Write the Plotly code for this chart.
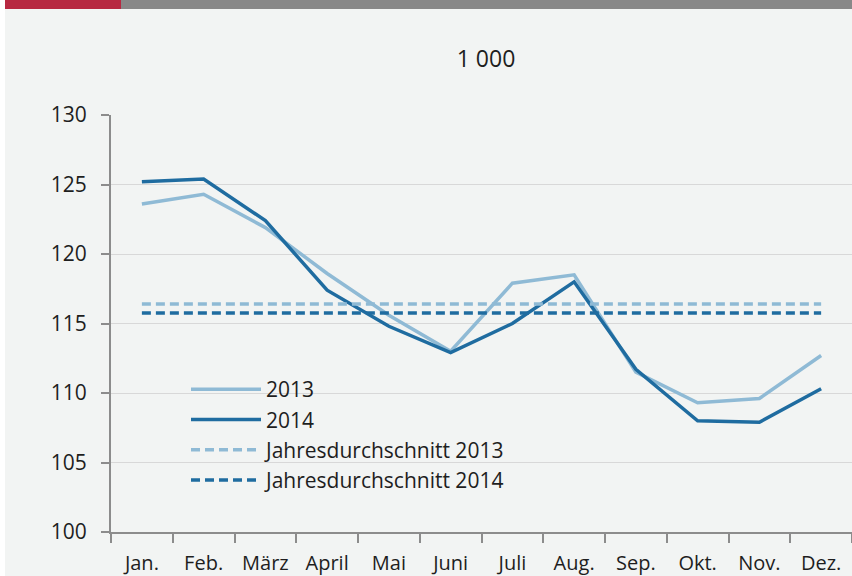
import plotly.graph_objects as go

months = ["Jan.", "Feb.", "März", "April", "Mai", "Juni", "Juli", "Aug.", "Sep.", "Okt.", "Nov.", "Dez."]
values_2013 = [123.6, 124.3, 121.9, 118.6, 115.6, 113.0, 117.9, 118.5, 111.5, 109.3, 109.6, 112.7]
values_2014 = [125.2, 125.4, 122.4, 117.4, 114.8, 112.9, 115.0, 118.0, 111.7, 108.0, 107.9, 110.3]
avg_2013 = 116.4
avg_2014 = 115.75
y_ticks = [100, 105, 110, 115, 120, 125, 130]

LIGHT = "#8fbad5"
DARK = "#1f6ca0"
BG = "#f2f4f3"
AXIS = "#8c8c8c"
GRID = "#d8d8d8"
TXT = "#1e1e1e"
FONT = "Open Sans, Noto Sans, DejaVu Sans, sans-serif"
DASH = "9px,5px"

fig = go.Figure()
fig.add_trace(go.Scatter(x=months, y=values_2013, mode="lines", name="2013",
                         line=dict(color=LIGHT, width=3.5)))
fig.add_trace(go.Scatter(x=months, y=values_2014, mode="lines", name="2014",
                         line=dict(color=DARK, width=3.5)))
fig.add_trace(go.Scatter(x=months, y=[avg_2013] * len(months), mode="lines",
                         name="Jahresdurchschnitt 2013",
                         line=dict(color=LIGHT, width=3.5, dash=DASH)))
fig.add_trace(go.Scatter(x=months, y=[avg_2014] * len(months), mode="lines",
                         name="Jahresdurchschnitt 2014",
                         line=dict(color=DARK, width=3.5, dash=DASH)))

W, H = 852, 576
L, R, T, B = 111, 0, 115, 44
pw = W - L - R
ph = H - T - B

def px_x(p):
    return (p - L) / pw

def px_y(p):
    return (H - B - p) / ph

shapes = [
    # background panel (white strip at left edge)
    dict(type="rect", xref="paper", yref="paper", x0=px_x(5), x1=px_x(W + 5),
         y0=px_y(H + 5), y1=px_y(9), fillcolor=BG, line_width=0, layer="below"),
    # top bars
    dict(type="rect", xref="paper", yref="paper", x0=px_x(5), x1=px_x(121),
         y0=px_y(9), y1=px_y(0), fillcolor="#b72841", line_width=0, layer="above"),
    dict(type="rect", xref="paper", yref="paper", x0=px_x(121), x1=px_x(W + 5),
         y0=px_y(9), y1=px_y(0), fillcolor="#888888", line_width=0, layer="above"),
    # legend backdrop covering gridlines
    dict(type="rect", xref="paper", yref="y", x0=px_x(146), x1=px_x(549),
         y0=102, y1=113, fillcolor=BG, line_width=0, layer="between"),
]

fig.update_layout(
    width=W, height=H,
    margin=dict(l=L, r=R, t=T, b=B, pad=0),
    paper_bgcolor="white",
    plot_bgcolor=BG,
    font=dict(family=FONT, size=20, color=TXT),
    title=dict(text="1 000", x=486 / W, xanchor="center", y=1 - 59 / H, yanchor="middle",
               font=dict(family=FONT, size=23, color=TXT)),
    showlegend=True,
    legend=dict(x=px_x(186), y=px_y(369), xanchor="left", yanchor="top",
                bgcolor="rgba(0,0,0,0)", font=dict(family=FONT, size=21, color=TXT),
                itemwidth=70, tracegroupgap=0, traceorder="normal"),
    shapes=shapes,
    xaxis=dict(type="category", categoryorder="array", categoryarray=months,
               range=[-0.5, 11.5], tickson="boundaries", ticks="outside", ticklen=9,
               tickcolor=AXIS, tickwidth=1.5, showline=True, linecolor=AXIS, linewidth=2,
               showgrid=False, zeroline=False, tickfont=dict(family=FONT, size=20, color=TXT),
               ticklabelstandoff=12, fixedrange=True),
    yaxis=dict(range=[100, 130], tickvals=y_ticks, ticks="outside", ticklen=8,
               tickcolor=AXIS, tickwidth=1.5, showline=True, linecolor=AXIS, linewidth=2,
               showgrid=True, gridcolor=GRID, gridwidth=1, zeroline=False,
               tickfont=dict(family=FONT, size=21, color=TXT), ticklabelstandoff=10,
               fixedrange=True),
)

fig.write_html("out.html", config={"displayModeBar": False},
               post_script="document.body.style.margin='0px';document.body.style.padding='0px';")
